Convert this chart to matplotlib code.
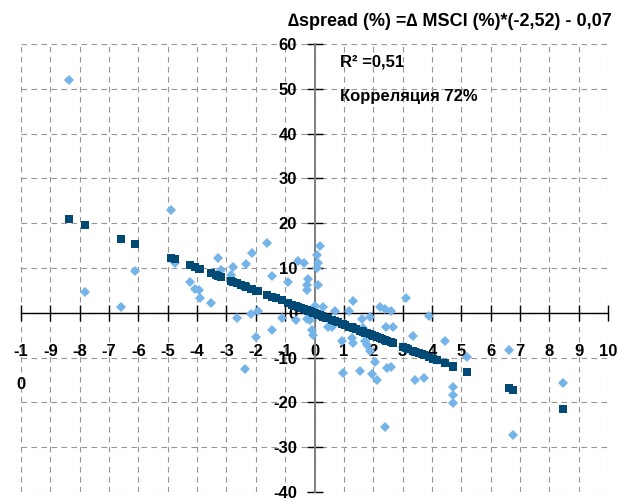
import matplotlib
matplotlib.use("Agg")
import matplotlib.pyplot as plt
import numpy as np

# ---- data ----
msci_change = [-8.36, -7.82, -6.59, -6.12, -4.89, -4.75, -4.24, -4.07, -3.94, -3.90,
               -3.54, -3.28, -3.20, -2.86, -2.79, -2.63, -2.37, -2.35, -2.12, -2.17,
               -1.94, -1.99, -1.63, -1.44, -1.44, -1.12, -0.89, -0.63, -0.57, -0.36,
               -0.21, -0.25, -0.27, -0.27, -0.15, -0.10, -0.04,
               0.19, 0.07, 0.13, 0.07, 0.13, 0.02, 0.30, 0.47, 0.70, 0.59,
               1.19, 1.30, 1.61, 1.89, 1.66, 2.23, 2.40, 2.60, 2.44, 2.66,
               3.12, 3.37, 3.91, 0.98, 1.55, 1.95, 2.12, 2.46, 2.60, 2.40,
               3.42, 3.74, 0.93, 1.27, 1.32, 1.72, 1.78, 1.89, 2.06, 4.45,
               4.71, 4.71, 4.73, 5.21, 6.64, 6.77, 8.46,
               0.25, 0.40, 0.80, 1.05, 1.40, 2.00, 2.30, 3.00, 3.20, 3.55,
               3.65, 4.05, 4.16, -0.45, -0.75, -1.30, -2.50, -3.35]
spread_change = [52.0, 4.6, 1.4, 9.4, 23.0, 11.2, 6.8, 5.3, 5.0, 3.4,
                 2.2, 12.3, 9.6, 8.5, 10.2, -1.2, -12.6, 10.9, 13.3, -0.3,
                 0.5, -5.3, 15.6, 8.3, -3.9, -1.2, 6.8, -1.6, 11.5, 11.2,
                 7.5, 6.2, 5.1, -1.4, -1.6, -3.8, -4.9,
                 14.8, 12.9, 11.1, 10.0, 6.2, 1.6, 1.4, -3.1, 0.3, -3.2,
                 0.3, 2.7, -1.4, -1.0, -3.4, 1.4, 0.8, 0.3, -3.2, -3.2,
                 3.3, -5.1, -0.7, -13.5, -13.1, -13.6, -15.1, -12.3, -12.1, -25.5,
                 -15.1, -14.6, -6.4, -5.6, -6.8, -6.4, -7.1, -8.6, -10.9, -6.4,
                 -16.6, -18.3, -20.2, -9.9, -8.4, -27.2, -15.7,
                 -0.7, -1.1, -2.1, -2.6, -3.6, -5.1, -5.9, -7.6, -8.1, -9.0,
                 -9.3, -10.3, -10.6, 1.1, 1.8, 3.2, 6.2, 8.4]

# regression stated on the chart
slope = -2.52
intercept = -0.07
r_squared_text = "R² =0,51"
correlation_text = "Корреляция 72%"
equation_text = "∆spread (%) =∆ MSCI (%)*(-2,52) - 0,07"

xticks = [-10, -9, -8, -7, -6, -5, -4, -3, -2, -1, 0, 1, 2, 3, 4, 5, 6, 7, 8, 9, 10]
xtick_labels = ["-1\n0", "-9", "-8", "-7", "-6", "-5", "-4", "-3", "-2", "-1", "0",
                "1", "2", "3", "4", "5", "6", "7", "8", "9", "10"]
yticks = [-40, -30, -20, -10, 0, 10, 20, 30, 40, 50, 60]
ytick_labels = ["-40", "-30", "-20", "-10", "0", "10", "20", "30", "40", "50", "60"]

FONT = ["Liberation Sans", "DejaVu Sans"]
plt.rcParams["font.family"] = FONT
plt.rcParams["font.weight"] = "bold"
FS = 12

x = np.array(msci_change)
y = np.array(spread_change)
fitted = slope * x + intercept

W, H = 619, 499
fig = plt.figure(figsize=(W / 100, H / 100), dpi=100)
ax = fig.add_axes([21 / W, (H - 492) / H, 587 / W, 448 / H])
ax.set_xlim(-10, 10)
ax.set_ylim(-40, 60)

ax.plot(x, y, linestyle="none", marker="D", markersize=4.8,
        color="#74B4E8", markeredgewidth=0, zorder=3)
ax.plot(x, fitted, linestyle="none", marker="s", markersize=5.7,
        color="#004A75", markeredgewidth=0, zorder=4)

for s in ["top", "right"]:
    ax.spines[s].set_visible(False)
ax.spines["left"].set_position(("data", 0))
ax.spines["bottom"].set_position(("data", 0))
ax.spines["left"].set_color("#7F7F7F")
ax.spines["left"].set_linewidth(1.4)
ax.spines["bottom"].set_color("black")
ax.spines["bottom"].set_linewidth(1.0)
ax.spines["left"].set_zorder(2)
ax.spines["bottom"].set_zorder(2)

ax.set_xticks(xticks)
ax.set_xticklabels(xtick_labels)
ax.set_yticks(yticks)
ax.set_yticklabels(ytick_labels)
ax.tick_params(axis="x", direction="inout", length=11, width=1.0, color="black",
               pad=17, labelsize=FS)
ax.tick_params(axis="y", direction="inout", length=11, width=1.0, color="black",
               pad=7, labelsize=FS)
for lab in ax.get_xticklabels():
    lab.set_linespacing(2.5)
    lab.set_verticalalignment("top")

ax.grid(True, color="#959595", linestyle=(0, (5, 4)), linewidth=0.8, zorder=0)
ax.set_axisbelow(True)

fig.text(612 / W, 1 - 22 / H, equation_text, ha="right", va="center", fontsize=13)
fig.text(340 / W, 1 - 62 / H, r_squared_text, ha="left", va="center", fontsize=FS)
fig.text(340 / W, 1 - 97 / H, correlation_text, ha="left", va="center", fontsize=FS)

fig.savefig("out.png", dpi=100)
